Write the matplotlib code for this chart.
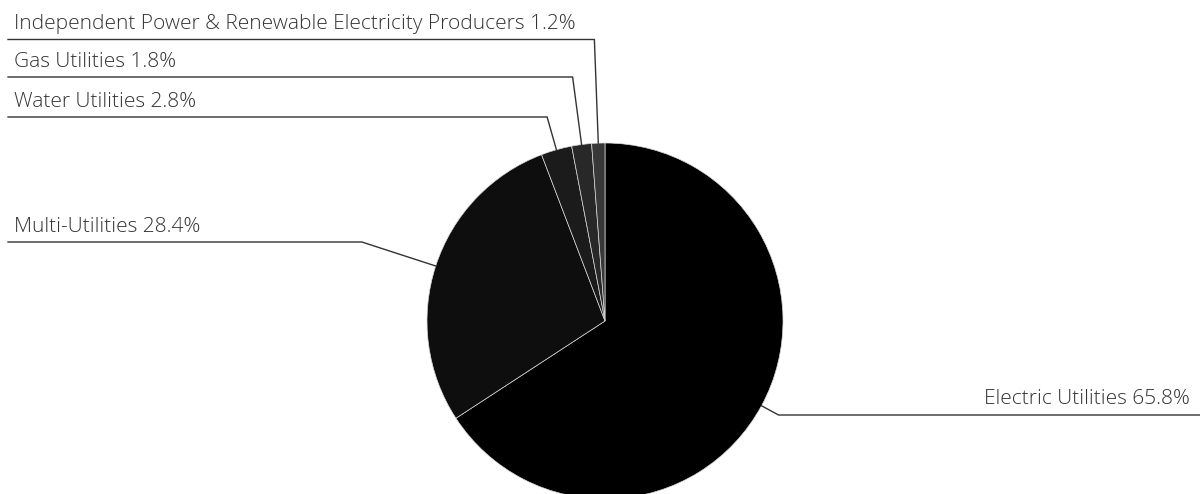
import numpy as np
import matplotlib
matplotlib.use("Agg")
import matplotlib.pyplot as plt

# Sector weights of the utilities universe (percent)
categories = [
    "Electric Utilities",
    "Multi-Utilities",
    "Water Utilities",
    "Gas Utilities",
    "Independent Power & Renewable Electricity Producers",
]
values = [65.8, 28.4, 2.8, 1.8, 1.2]
colors = ["#000000", "#0e0e0e", "#1b1b1b", "#282828", "#383838"]

# Label rows (pixels from the top) and which side each label sits on
label_rows = [415, 242, 117, 77, 39.5]
label_sides = ["right", "left", "left", "left", "left"]

W, H = 1200, 494
fig = plt.figure(figsize=(W / 100, H / 100), dpi=100)
ax = fig.add_axes([0, 0, 1, 1])

cx, cy, r = 605, H - 321, 178
wedges, _ = ax.pie(
    values,
    colors=colors,
    startangle=90,
    counterclock=False,
    center=(cx, cy),
    radius=r,
    wedgeprops=dict(edgecolor="#d8d8d8", linewidth=0.5),
)

ax.set_xlim(0, W)
ax.set_ylim(0, H)
ax.set_axis_off()

line_color = "#333333"
text_color = "#333333"
font = dict(family=["Open Sans", "DejaVu Sans"], fontsize=15, fontweight="light",
            color=text_color)

for wedge, name, val, row, side in zip(wedges, categories, values, label_rows, label_sides):
    mid = np.deg2rad((wedge.theta1 + wedge.theta2) / 2)
    ax_x = cx + r * np.cos(mid)
    ax_y = cy + r * np.sin(mid)
    ly = H - row
    # extend radially from the wedge edge until the label row is reached
    t = (ly - ax_y) / np.sin(mid)
    ex = ax_x + t * np.cos(mid)
    text = f"{name} {val:.1f}%"
    if side == "left":
        ax.plot([ax_x, ex, 8], [ax_y, ly, ly], color=line_color, lw=1.0,
                solid_joinstyle="miter")
        ax.text(14, ly + 10, text, ha="left", va="baseline", **font)
    else:
        ax.plot([ax_x, ex, 1200], [ax_y, ly, ly], color=line_color, lw=1.0,
                solid_joinstyle="miter")
        ax.text(1190, ly + 11, text, ha="right", va="baseline", **font)

fig.savefig("out.png", dpi=100, facecolor="white")
